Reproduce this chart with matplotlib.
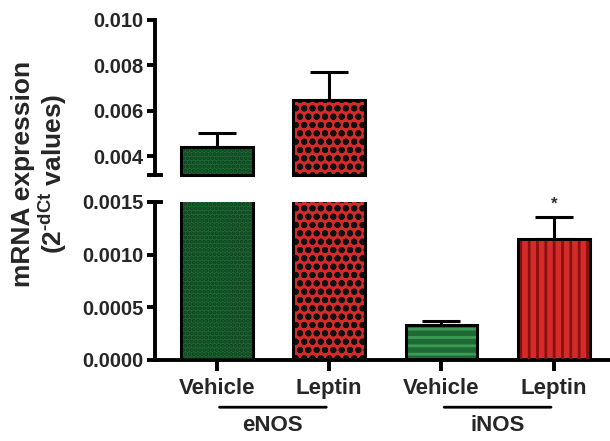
import matplotlib
matplotlib.use("Agg")
import matplotlib.pyplot as plt
import numpy as np

plt.rcParams['font.family'] = ['Liberation Sans', 'DejaVu Sans']
plt.rcParams['font.weight'] = 'bold'
plt.rcParams['hatch.linewidth'] = 2.0
plt.rcParams['mathtext.fontset'] = 'custom'
plt.rcParams['mathtext.rm'] = 'Liberation Sans:bold'
plt.rcParams['mathtext.bf'] = 'Liberation Sans:bold'

categories = ["Vehicle", "Leptin", "Vehicle", "Leptin"]
groups = ["eNOS", "iNOS"]
values = [0.0044, 0.00647, 0.000327, 0.00115]
errors = [0.0006, 0.00125, 0.00004, 0.00021]
face_colors = ["#1d6a34", "#d42a2a", "#1d6a34", "#d42a2a"]
hatch_colors = ["#0e3f1c", "#111111", "#3f9a55", "#8a1010"]
hatches = ["....", "oo", "--", "||"]
upper_ticks = [0.004, 0.006, 0.008, 0.010]
lower_ticks = [0.0, 0.0005, 0.0010, 0.0015]

text_color = '#262626'
fig = plt.figure(figsize=(6.10, 4.41), dpi=100)
ax_top = fig.add_axes([0.254, 0.603, 0.746, 0.352])
ax_bot = fig.add_axes([0.254, 0.184, 0.746, 0.358])

x = np.arange(len(values))
width = 0.64
lw = 2.2

for ax in (ax_top, ax_bot):
    ax.bar(x, values, width, color=face_colors, linewidth=0, zorder=2)
    for i in range(len(values)):
        ax.bar(x[i], values[i], width, color='none', edgecolor=hatch_colors[i],
               hatch=hatches[i], linewidth=0, zorder=3)
    ax.bar(x, values, width, color='none', edgecolor='black', linewidth=lw, zorder=4)
    ax.errorbar(x, values, yerr=[np.zeros(len(errors)), errors], fmt='none',
                ecolor='black', elinewidth=lw, capsize=14, capthick=lw, zorder=1)
    ax.set_xlim(-0.55, 3.5)
    for s in ['top', 'right']:
        ax.spines[s].set_visible(False)
    ax.spines['left'].set_linewidth(lw + 0.6)
    ax.tick_params(axis='y', width=lw + 0.6, length=6, labelsize=14.5, pad=2,
                   labelcolor=text_color)

ax_top.set_ylim(0.00316, 0.0100)
ax_top.set_yticks(upper_ticks)
ax_top.set_yticklabels([f"{v:.3f}" for v in upper_ticks])
ax_top.spines['bottom'].set_visible(False)
ax_top.set_xticks([])
ax_top.plot([-0.60, -0.50], [0.00316, 0.00316], color='black', lw=lw + 0.6,
            clip_on=False, zorder=5)
for i in range(2):
    ax_top.plot([x[i] - width / 2, x[i] + width / 2], [0.00318, 0.00318],
                color='black', lw=lw, clip_on=False, zorder=5)

ax_bot.set_ylim(0.0, 0.0015)
ax_bot.set_yticks(lower_ticks)
ax_bot.set_yticklabels([f"{v:.4f}" for v in lower_ticks])
ax_bot.spines['bottom'].set_linewidth(lw + 0.6)
ax_bot.set_xticks(x)
ax_bot.set_xticklabels(categories)
ax_bot.tick_params(axis='x', width=lw + 0.6, length=8, labelsize=16, pad=5,
                   labelcolor=text_color)
ax_bot.plot([-0.60, -0.50], [0.0015, 0.0015], color='black', lw=lw + 0.6,
            clip_on=False, zorder=5)

ax_bot.text(x[3], values[3] + errors[3] + 0.00005, "*", ha='center', va='bottom',
            fontsize=12, color='#333333')

for g, name in enumerate(groups):
    x0, x1 = x[2 * g], x[2 * g + 1]
    ax_bot.annotate('', xy=(x0, -0.00045), xytext=(x1, -0.00045),
                    xycoords=('data', 'data'), annotation_clip=False,
                    arrowprops=dict(arrowstyle='-', lw=2.0, color='black'))
    ax_bot.text((x0 + x1) / 2, -0.00052, name, ha='center', va='top',
                fontsize=16, clip_on=False, color=text_color)

fig.text(0.066, 0.605, "mRNA expression\n(2$^{\\text{-dCt}}$ values)", rotation=90,
         ha='center', va='center', fontsize=19, linespacing=1.05, color=text_color)

fig.savefig("out.png", dpi=100)
